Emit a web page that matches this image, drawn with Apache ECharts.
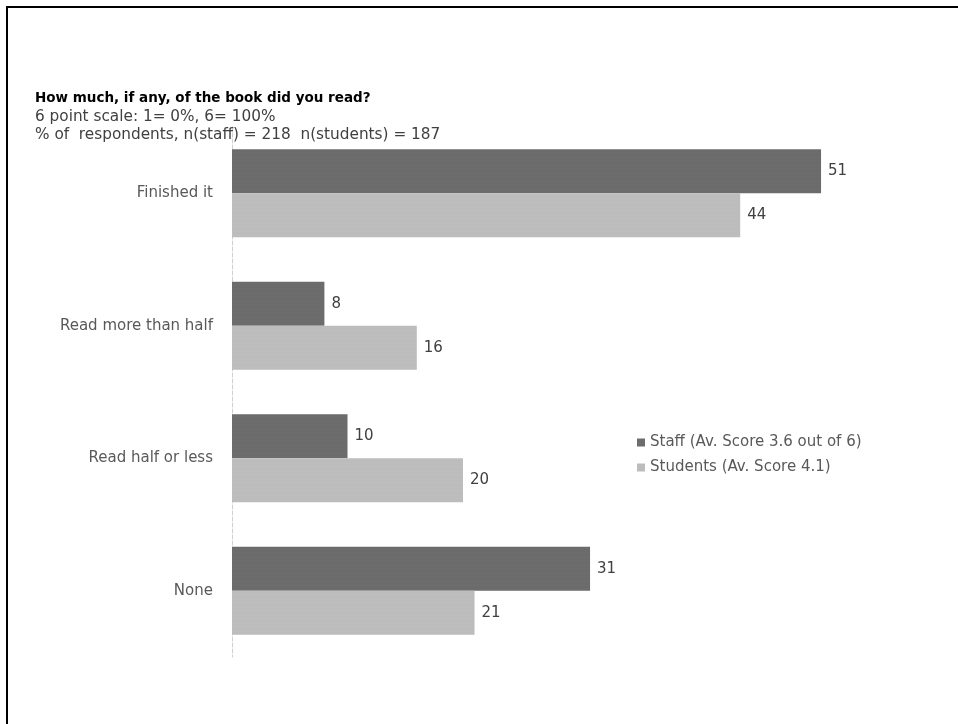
<!DOCTYPE html>
<html>
<head>
<meta charset="utf-8">
<script src="https://cdn.jsdelivr.net/npm/echarts@6/dist/echarts.min.js"></script>
<style>
html,body{margin:0;padding:0;background:#fff;}
#chart{width:958px;height:724px;}
</style>
</head>
<body>
<div id="chart"></div>
<script>
var categories = ['Finished it', 'Read more than half', 'Read half or less', 'None'];
var staffValues = [51, 8, 10, 31];
var studentValues = [44, 16, 20, 21];
var seriesNames = ['Staff (Av. Score 3.6 out of 6)', 'Students (Av. Score 4.1)'];
var titleText = 'How much, if any, of the book did you read?';
var subtitleLines = ['6 point scale: 1= 0%, 6= 100%', '% of  respondents, n(staff) = 218  n(students) = 187'];

var chart = echarts.init(document.getElementById('chart'));
var font = 'DejaVu Sans, sans-serif';
var labelStyle = {show: true, position: 'right', distance: 7, color: '#404040', fontSize: 15, fontFamily: font};
chart.setOption({
  animation: false,
  backgroundColor: '#fff',
  textStyle: {fontFamily: font},
  title: {
    text: titleText,
    subtext: subtitleLines.join('\n'),
    left: 30,
    top: 86,
    itemGap: 3,
    textStyle: {fontSize: 13.5, fontWeight: 'bold', color: '#000', fontFamily: font},
    subtextStyle: {fontSize: 15.3, color: '#404040', lineHeight: 18, fontFamily: font}
  },
  graphic: [
    {type: 'line', shape: {x1: 6, y1: 7, x2: 958, y2: 7}, style: {stroke: '#000', lineWidth: 2}},
    {type: 'line', shape: {x1: 7, y1: 6, x2: 7, y2: 724}, style: {stroke: '#000', lineWidth: 2}}
  ],
  legend: {
    orient: 'vertical',
    left: 632,
    top: 430,
    itemWidth: 8,
    itemHeight: 8,
    itemGap: 10,
    icon: 'rect',
    textStyle: {color: '#595959', fontSize: 15, fontFamily: font}
  },
  grid: {left: 232, top: 127, width: 693, height: 530, containLabel: false},
  xAxis: {type: 'value', min: 0, max: 60, show: false},
  yAxis: {
    type: 'category',
    data: categories,
    inverse: true,
    axisLine: {show: true, lineStyle: {color: '#d0d0d0', type: 'dashed', width: 1}},
    axisTick: {show: false},
    axisLabel: {color: '#595959', fontSize: 15, margin: 19, fontFamily: font},
    splitLine: {show: false}
  },
  series: [
    {name: seriesNames[0], type: 'bar', data: staffValues, barGap: '0%', barCategoryGap: '33.6%',
     itemStyle: {color: '#6b6b6b',
       decal: {symbol: 'circle', symbolSize: 0.5, dashArrayX: [1, 0], dashArrayY: [2, 2], color: 'rgba(255,255,255,0.12)'}},
     label: labelStyle},
    {name: seriesNames[1], type: 'bar', data: studentValues, barGap: '0%', barCategoryGap: '33.6%',
     itemStyle: {color: '#bdbdbd',
       decal: {symbol: 'circle', symbolSize: 0.5, dashArrayX: [1, 0], dashArrayY: [2, 2], color: 'rgba(0,0,0,0.08)'}},
     label: labelStyle}
  ]
});
</script>
</body>
</html>
